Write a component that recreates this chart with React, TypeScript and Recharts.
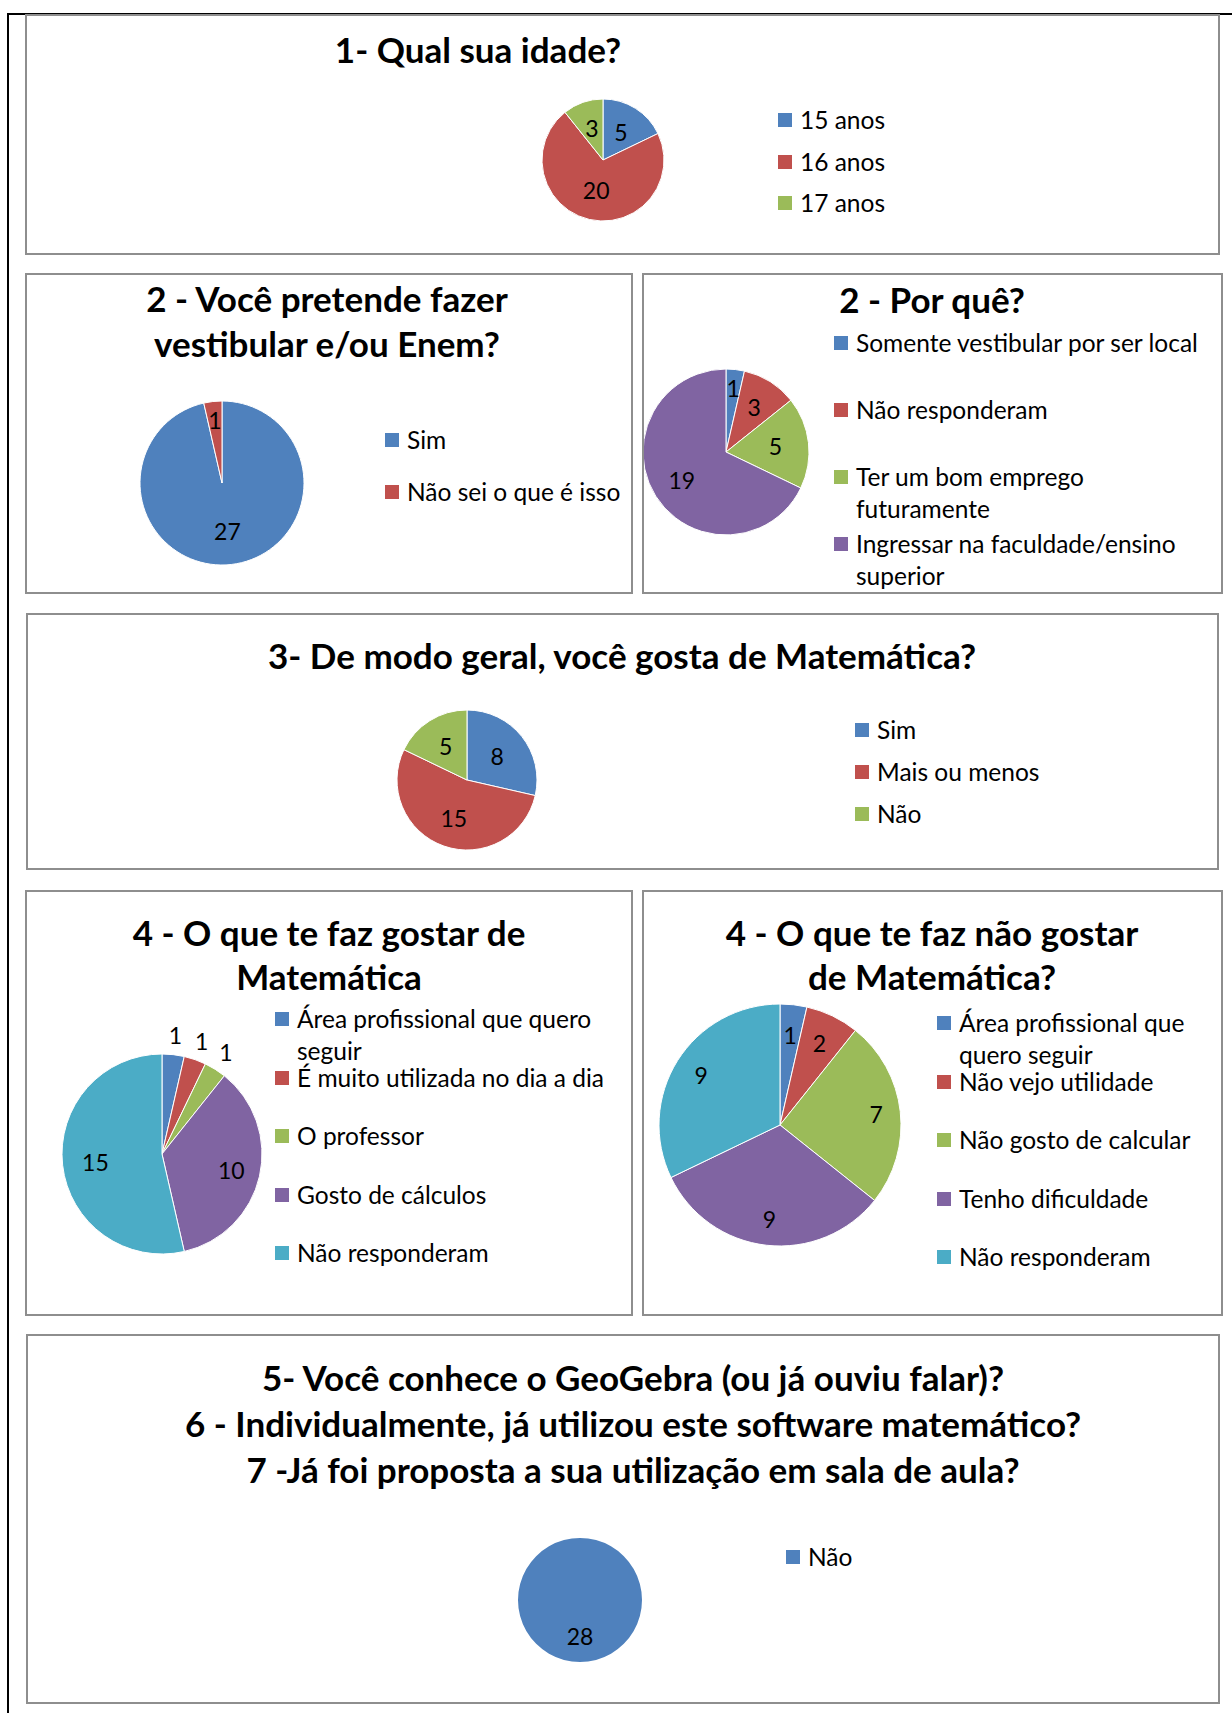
import { PieChart, Pie, Cell, Legend } from 'recharts';

const idadeNomes = ['15 anos', '16 anos', '17 anos'];
const idadeValores = [5, 20, 3];

const vestibularNomes = ['Sim', 'Não sei o que é isso'];
const vestibularValores = [27, 1];

const porqueNomes = [
  'Somente vestibular por ser local',
  'Não responderam',
  'Ter um bom emprego futuramente',
  'Ingressar na faculdade/ensino superior',
];
const porqueValores = [1, 3, 5, 19];

const gostaNomes = ['Sim', 'Mais ou menos', 'Não'];
const gostaValores = [8, 15, 5];

const gostarNomes = [
  'Área profissional que quero seguir',
  'É muito utilizada no dia a dia',
  'O professor',
  'Gosto de cálculos',
  'Não responderam',
];
const gostarValores = [1, 1, 1, 10, 15];

const naoGostarNomes = [
  'Área profissional que quero seguir',
  'Não vejo utilidade',
  'Não gosto de calcular',
  'Tenho dificuldade',
  'Não responderam',
];
const naoGostarValores = [1, 2, 7, 9, 9];

const geogebraNomes = ['Não'];
const geogebraValores = [28];

const COLORS = ['#4F81BD', '#C0504D', '#9BBB59', '#8064A2', '#4BACC6'];
const FONT = 'Lato, "Open Sans", sans-serif';

interface PanelProps {
  box: [number, number, number, number];
  title: string[];
  titleX: number;
  titleY: number;
  titleGap?: number;
  names: string[];
  values: number[];
  pie: [number, number, number];
  labelR: number[];
  legend: { x: number; y: number; step: number; width: number };
}

const makeLabel = (radii: number[]) => (props: any) => {
  const { cx, cy, midAngle, outerRadius, index, value } = props;
  const r = outerRadius * (radii[index] ?? 0.6);
  const x = cx + r * Math.cos((-midAngle * Math.PI) / 180);
  const y = cy + r * Math.sin((-midAngle * Math.PI) / 180);
  return (
    <text x={x} y={y} textAnchor="middle" dominantBaseline="central" fill="#000" fontSize={23} fontFamily={FONT}>
      {value}
    </text>
  );
};

const Panel = ({ box, title, titleX, titleY, titleGap = 45, names, values, pie, labelR, legend }: PanelProps) => {
  const [left, top, width, height] = box;
  const data = names.map((name, i) => ({ name, value: values[i] }));

  // legenda na ordem dos dados (o Recharts ordena por nome)
  const renderLegend = () => (
    <div style={{ position: 'relative', width: legend.width + 24, fontFamily: FONT }}>
      {data.map((d, i) => (
        <div
          key={`leg-${i}`}
          style={{ position: 'absolute', left: 0, top: i * legend.step, display: 'flex', alignItems: 'flex-start' }}
        >
          <span style={{ width: 14, height: 14, marginTop: 9, flex: 'none', background: COLORS[i] }} />
          <span style={{ marginLeft: 8, width: legend.width, lineHeight: '32px', fontSize: 24.5, color: '#000' }}>
            {d.name}
          </span>
        </div>
      ))}
    </div>
  );

  return (
    <div style={{ position: 'absolute', left, top, width, height }}>
      <PieChart width={width} height={height} margin={{ top: 0, right: 0, bottom: 0, left: 0 }}>
        <Pie
          data={data}
          dataKey="value"
          nameKey="name"
          cx={pie[0] - left}
          cy={pie[1] - top}
          outerRadius={pie[2]}
          startAngle={90}
          endAngle={-270}
          stroke={data.length > 1 ? '#fff' : 'none'}
          strokeWidth={1}
          label={makeLabel(labelR)}
          labelLine={false}
          isAnimationActive={false}
        >
          {data.map((d, i) => (
            <Cell key={`cell-${d.name}`} fill={COLORS[i]} />
          ))}
        </Pie>
        <Legend
          layout="vertical"
          content={renderLegend}
          wrapperStyle={{ left: legend.x - left, top: legend.y - 16 - top, width: legend.width + 24 }}
        />
      </PieChart>
      {title.map((line, i) => (
        <div
          key={`t-${i}`}
          style={{
            position: 'absolute',
            left: titleX - left - 500,
            width: 1000,
            top: titleY + i * titleGap - top - 25,
            lineHeight: '44px',
            textAlign: 'center',
            fontFamily: FONT,
            fontWeight: 700,
            fontSize: 35,
            color: '#000',
            whiteSpace: 'nowrap',
            pointerEvents: 'none',
          }}
        >
          {line}
        </div>
      ))}
      <div
        style={{
          position: 'absolute',
          inset: 0,
          border: '2px solid #8e8e8e',
          boxSizing: 'border-box',
          pointerEvents: 'none',
        }}
      />
    </div>
  );
};

export default function App() {
  return (
    <div style={{ position: 'absolute', left: 0, top: 0, width: 1232, height: 1713, background: '#fff', overflow: 'hidden' }}>
      <div style={{ position: 'absolute', left: 7, top: 13, width: 1225, height: 2, background: '#000' }} />
      <div style={{ position: 'absolute', left: 7, top: 13, width: 2, height: 1700, background: '#000' }} />

      <Panel
        box={[25, 14, 1195, 241]}
        title={['1- Qual sua idade?']}
        titleX={478}
        titleY={52}
        names={idadeNomes}
        values={idadeValores}
        pie={[603, 160, 61]}
        labelR={[0.55, 0.5, 0.55]}
        legend={{ x: 778, y: 120, step: 41.5, width: 300 }}
      />
      <Panel
        box={[25, 273, 608, 321]}
        title={['2 - Você pretende fazer', 'vestibular e/ou Enem?']}
        titleX={327}
        titleY={301}
        names={vestibularNomes}
        values={vestibularValores}
        pie={[222, 483, 82]}
        labelR={[0.59, 0.77]}
        legend={{ x: 385, y: 440, step: 52, width: 240 }}
      />
      <Panel
        box={[642, 273, 581, 321]}
        title={['2 - Por quê?']}
        titleX={932}
        titleY={302}
        names={porqueNomes}
        values={porqueValores}
        pie={[726, 452, 83]}
        labelR={[0.77, 0.64, 0.6, 0.63]}
        legend={{ x: 834, y: 343, step: 67, width: 360 }}
      />
      <Panel
        box={[26, 613, 1193, 257]}
        title={['3- De modo geral, você gosta de Matemática?']}
        titleX={622}
        titleY={658}
        names={gostaNomes}
        values={gostaValores}
        pie={[467, 780, 70]}
        labelR={[0.55, 0.57, 0.57]}
        legend={{ x: 855, y: 730, step: 42, width: 300 }}
      />
      <Panel
        box={[25, 890, 608, 426]}
        title={['4 - O que te faz gostar de', 'Matemática']}
        titleX={329}
        titleY={935}
        titleGap={44}
        names={gostarNomes}
        values={gostarValores}
        pie={[162, 1154, 100]}
        labelR={[1.2, 1.2, 1.2, 0.71, 0.67]}
        legend={{ x: 275, y: 1019, step: 58.5, width: 318 }}
      />
      <Panel
        box={[642, 890, 581, 426]}
        title={['4 - O que te faz não gostar', 'de Matemática?']}
        titleX={932}
        titleY={935}
        titleGap={44}
        names={naoGostarNomes}
        values={naoGostarValores}
        pie={[780, 1125, 121]}
        labelR={[0.75, 0.75, 0.8, 0.78, 0.77]}
        legend={{ x: 937, y: 1023, step: 58.5, width: 245 }}
      />
      <Panel
        box={[26, 1334, 1194, 370]}
        title={[
          '5- Você conhece o GeoGebra (ou já ouviu falar)?',
          '6 - Individualmente, já utilizou este software matemático?',
          '7 -Já foi proposta a sua utilização em sala de aula?',
        ]}
        titleX={633}
        titleY={1380}
        titleGap={46}
        names={geogebraNomes}
        values={geogebraValores}
        pie={[580, 1600, 62]}
        labelR={[0.58]}
        legend={{ x: 786, y: 1557, step: 40, width: 200 }}
      />
    </div>
  );
}
